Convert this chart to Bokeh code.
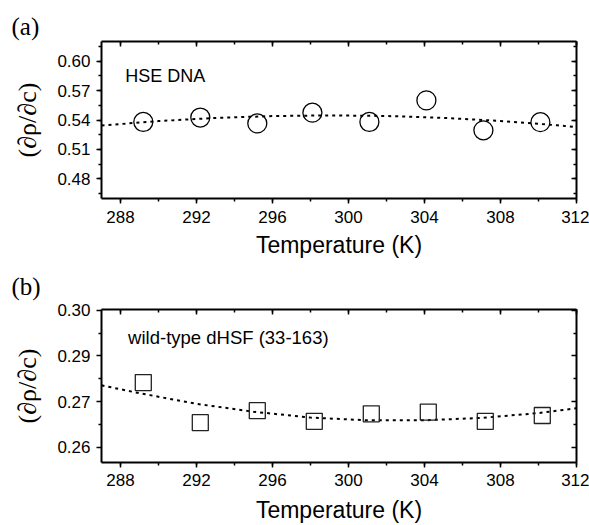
from bokeh.plotting import figure
from bokeh.layouts import column
from bokeh.models import (Range1d, LinearAxis, SingleIntervalTicker, FixedTicker,
                          PrintfTickFormatter, CustomJSTickFormatter, Label)
from bokeh.embed import file_html
from bokeh.resources import INLINE

# ---------------- data ----------------
temp_a = [289.2, 292.2, 295.2, 298.1, 301.1, 304.1, 307.1, 310.1]
drho_a = [0.5380, 0.5425, 0.5365, 0.5475, 0.5380, 0.5600, 0.5295, 0.5378]
fit_temp_a = [287, 290, 293, 296, 299, 302, 305, 308, 311, 312]
fit_a = [0.5344, 0.5389, 0.5421, 0.5440, 0.5447, 0.5441, 0.5422, 0.5390, 0.5346, 0.5327]

temp_b = [289.2, 292.2, 295.2, 298.2, 301.2, 304.2, 307.2, 310.2]
drho_b = [0.2789, 0.2672, 0.2707, 0.2676, 0.2698, 0.2703, 0.2676, 0.2693]
fit_temp_b = [287, 289, 292, 295, 298, 301, 304, 307, 310, 312]
fit_b = [0.2781, 0.2758, 0.2727, 0.2704, 0.2687, 0.2679, 0.2679, 0.2686, 0.2700, 0.2714]

x_tick_interval = 4
y_tick_interval_a = 0.03
y_ticks_b = [0.26, 0.27333, 0.28667, 0.30]
y_minor_b = [0.26667, 0.28, 0.29333]

label_a = "(a)"
label_b = "(b)"
text_a = "HSE DNA"
text_b = "wild-type dHSF (33-163)"
x_title = "Temperature (K)"
y_title = "(\u2202\u03c1/\u2202c)"

SANS = "Liberation Sans"
SERIF = "Liberation Serif"


def style_axis(ax, outward=True, labels=True, tick_standoff=6):
    ax.axis_line_width = 2
    ax.axis_line_color = "black"
    ax.major_tick_line_width = 1.5
    ax.minor_tick_line_width = 1.5
    ax.major_tick_line_color = "black"
    ax.minor_tick_line_color = "black"
    if outward:
        ax.major_tick_out, ax.major_tick_in = 5, 0
        ax.minor_tick_out, ax.minor_tick_in = 3, 0
    else:
        ax.major_tick_out, ax.major_tick_in = 0, 5
        ax.minor_tick_out, ax.minor_tick_in = 0, 3
    if labels:
        ax.major_label_text_font = SANS
        ax.major_label_text_font_size = "17px"
        ax.major_label_text_color = "black"
        ax.major_label_standoff = tick_standoff
    else:
        ax.formatter = CustomJSTickFormatter(code="return ''")
        ax.major_label_standoff = 0


def make_panel(height, b_top, b_bottom, yr, y_ticker_fn, fmt, tag, tag_standoff,
               x_tick_standoff, x_label_standoff):
    p = figure(width=589, height=height, x_range=Range1d(287, 312), y_range=yr,
               output_backend="svg", toolbar_location=None,
               x_axis_type=None, y_axis_type=None,
               min_border_left=101, min_border_right=13,
               min_border_top=b_top, min_border_bottom=b_bottom,
               title=tag)
    p.outline_line_color = None
    p.background_fill_color = "white"
    p.border_fill_color = "white"
    # panel tag "(a)" / "(b)" in the top-left corner
    p.title.text_font = SERIF
    p.title.text_font_size = "25px"
    p.title.text_font_style = "normal"
    p.title.text_color = "black"
    p.title.align = "left"
    p.title.offset = -90
    p.title.standoff = tag_standoff

    bottom = LinearAxis(ticker=SingleIntervalTicker(interval=x_tick_interval, num_minor_ticks=2),
                        axis_label=x_title)
    style_axis(bottom, tick_standoff=x_tick_standoff)
    bottom.axis_label_text_font = SANS
    bottom.axis_label_text_font_size = "23px"
    bottom.axis_label_text_font_style = "normal"
    bottom.axis_label_text_color = "black"
    bottom.axis_label_standoff = x_label_standoff
    p.add_layout(bottom, "below")

    top = LinearAxis(ticker=SingleIntervalTicker(interval=x_tick_interval, num_minor_ticks=2))
    style_axis(top, outward=False, labels=False)
    p.add_layout(top, "above")

    left = LinearAxis(ticker=y_ticker_fn(), formatter=fmt, axis_label=y_title)
    style_axis(left, tick_standoff=6)
    left.axis_label_text_font = SERIF
    left.axis_label_text_font_size = "26px"
    left.axis_label_text_font_style = "normal"
    left.axis_label_text_color = "black"
    left.axis_label_standoff = 12
    p.add_layout(left, "left")

    right = LinearAxis(ticker=y_ticker_fn())
    style_axis(right, outward=False, labels=False)
    p.add_layout(right, "right")
    return p


pa = make_panel(260, 41, 58, Range1d(0.46, 0.62),
                lambda: SingleIntervalTicker(interval=y_tick_interval_a, num_minor_ticks=2),
                PrintfTickFormatter(format="%.2f"), label_a, 3, 7, 6)
pa.line(fit_temp_a, fit_a, line_color="black", line_width=2, line_dash="3 4")
pa.scatter(temp_a, drho_a, marker="circle", size=19, fill_color=None,
           line_color="black", line_width=1.3)
pa.add_layout(Label(x=288.25, y=0.5852, text=text_a, text_font=SANS,
                    text_font_size="18px", text_color="black", text_baseline="alphabetic"))

pb = make_panel(265, 49, 61, Range1d(0.2556, 0.3002),
                lambda: FixedTicker(ticks=y_ticks_b, minor_ticks=y_minor_b),
                PrintfTickFormatter(format="%.2f"), label_b, 19, 6, 8)
pb.line(fit_temp_b, fit_b, line_color="black", line_width=2, line_dash="3 4")
pb.scatter(temp_b, drho_b, marker="square", size=16, fill_color=None,
           line_color="#222222", line_width=1.3)
pb.add_layout(Label(x=288.4, y=0.2920, text=text_b, text_font=SANS,
                    text_font_size="18.5px", text_color="black", text_baseline="alphabetic"))

layout = column(pa, pb, spacing=0)
open("out.html", "w").write(file_html(layout, INLINE))
